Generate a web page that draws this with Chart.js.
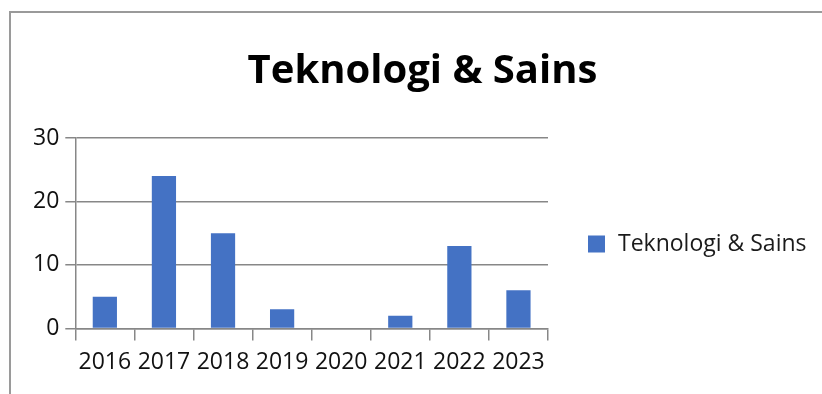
<!DOCTYPE html>
<html>
<head>
<meta charset="utf-8">
<script src="https://cdn.jsdelivr.net/npm/chart.js@4/dist/chart.umd.min.js"></script>
<style>
html, body { margin: 0; padding: 0; background: #fff; overflow: hidden; }
#frame { position: absolute; left: 9px; top: 11px; width: 830px; height: 400px; border-top: 2px solid #9a9a9a; border-left: 2px solid #9a9a9a; }
#wrap { position: absolute; left: 0; top: 0; width: 822px; height: 394px; }
</style>
</head>
<body>
<div id="frame"></div>
<div id="wrap"><canvas id="chart"></canvas></div>
<script>
var years = ['2016', '2017', '2018', '2019', '2020', '2021', '2022', '2023'];
var counts = [5, 24, 15, 3, 0, 2, 13, 6];
var seriesName = 'Teknologi & Sains';
var yTicks = [0, 10, 20, 30];

var gridGray = '#878787';
var font = 'Open Sans';

// legend drawn by hand in the space kept free by the 'legendSpace' axis
// (the built in right legend gets capped to a quarter of the width)
var sideLegend = {
	id: 'sideLegend',
	afterDraw: function(chart) {
		var c = chart.ctx;
		var area = chart.chartArea;
		var ds = chart.data.datasets[0];
		var x = area.right + 40;
		var y = 244;
		c.save();
		c.fillStyle = ds.backgroundColor;
		c.fillRect(x, y - 8.5, 17, 17);
		c.fillStyle = '#1a1a1a';
		c.font = '23px "' + font + '"';
		c.textBaseline = 'middle';
		c.textAlign = 'left';
		c.fillText(ds.label, x + 30, y);
		c.restore();
	}
};

var ctx = document.getElementById('chart').getContext('2d');

var chart = new Chart(ctx, {
	type: 'bar',
	data: {
		labels: years,
		datasets: [{
			label: seriesName,
			data: counts,
			backgroundColor: '#4472C4',
			barPercentage: 0.41,
			categoryPercentage: 1
		}]
	},
	plugins: [sideLegend],
	options: {
		responsive: true,
		maintainAspectRatio: false,
		animation: false,
		layout: {
			padding: { left: 27, right: 4, top: 0, bottom: 10 }
		},
		plugins: {
			title: {
				display: true,
				text: seriesName,
				color: '#000',
				font: { family: font, size: 40, weight: 'bold' },
				padding: { top: 48, bottom: 42 }
			},
			legend: { display: false },
			tooltip: { enabled: false }
		},
		scales: {
			x: {
				grid: {
					display: true,
					offset: true,
					drawOnChartArea: false,
					drawTicks: true,
					tickLength: 12,
					color: gridGray,
					lineWidth: 1.5
				},
				border: { display: true, color: gridGray, width: 1.5 },
				ticks: {
					color: '#111',
					padding: 8,
					maxRotation: 0,
					autoSkip: false,
					font: { family: font, size: 23 }
				}
			},
			y: {
				min: yTicks[0],
				max: yTicks[yTicks.length - 1],
				afterBuildTicks: function(axis) {
					axis.ticks = yTicks.map(function(v) { return { value: v }; });
				},
				grid: {
					color: gridGray,
					lineWidth: 1.5,
					drawTicks: true,
					tickLength: 10
				},
				border: { display: true, color: gridGray, width: 1.5 },
				ticks: {
					color: '#111',
					padding: 6,
					font: { family: font, size: 23 }
				}
			},
			legendSpace: {
				type: 'linear',
				position: 'right',
				grid: { display: false },
				border: { display: false },
				ticks: { display: false },
				afterFit: function(scale) {
					scale.width = 270;
				}
			}
		}
	}
});
</script>
</body>
</html>
